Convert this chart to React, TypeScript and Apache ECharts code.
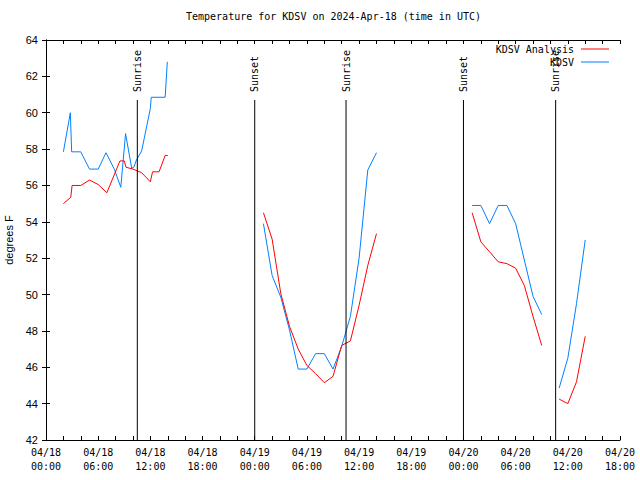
import React, { useEffect, useRef } from "react";
import * as echarts from "echarts";

// Hours since 2024-04-18 00:00 UTC
const titleText = "Temperature for KDSV on 2024-Apr-18 (time in UTC)";
const yAxisName = "degrees F";
const seriesNames = ["KDSV Analysis", "KDSV"];

// KDSV Analysis (red), segments
const analysisHours1 = [2, 2.85, 3, 4, 5, 6, 7, 8.5, 9, 9.2, 10, 11, 12, 12.25, 13, 13.7, 14];
const analysisTemps1 = [55.0, 55.35, 56.0, 56.0, 56.3, 56.05, 55.6, 57.35, 57.35, 57.0, 56.9, 56.7, 56.2, 56.75, 56.75, 57.65, 57.65];
const analysisHours2 = [25, 26, 27, 28, 29, 30, 31, 32, 33, 34, 35, 36, 37, 38];
const analysisTemps2 = [54.5, 53.05, 50.05, 48.25, 47.0, 46.1, 45.65, 45.15, 45.5, 47.2, 47.45, 49.4, 51.6, 53.35];
const analysisHours3 = [49, 50, 51, 52, 53, 54, 55, 56, 57];
const analysisTemps3 = [54.5, 52.9, 52.35, 51.8, 51.7, 51.45, 50.5, 48.8, 47.2];
const analysisHours4 = [59, 60, 61, 62];
const analysisTemps4 = [44.25, 44.0, 45.2, 47.7];

// KDSV observations (blue), segments
const obsHours1 = [2, 2.8, 2.95, 4, 5, 6, 6.9, 7.85, 8.6, 9.15, 9.85, 10.1, 10.4, 11, 12, 12.1, 13.7, 13.95];
const obsTemps1 = [57.85, 60.0, 57.85, 57.85, 56.9, 56.9, 57.8, 56.9, 55.9, 58.85, 56.95, 57.0, 57.4, 57.9, 60.24, 60.85, 60.85, 62.8];
const obsHours2 = [25, 26, 27, 28, 29, 30, 31, 32, 33, 34, 35, 36, 37, 38];
const obsTemps2 = [53.9, 51.05, 49.85, 48.05, 45.9, 45.9, 46.75, 46.75, 45.9, 47.15, 48.8, 52.0, 56.85, 57.8];
const obsHours3 = [49, 50, 51, 52, 53, 54, 55, 56, 57];
const obsTemps3 = [54.9, 54.9, 53.9, 54.9, 54.9, 53.9, 51.9, 49.9, 48.9];
const obsHours4 = [59, 60, 61, 62];
const obsTemps4 = [44.85, 46.5, 49.5, 53.0];

// Sunrise / sunset events
const eventHours = [10.5, 24.0, 34.5, 48.0, 58.6];
const eventNames = ["Sunrise", "Sunset", "Sunrise", "Sunset", "Sunrise"];
const eventLineTopTemp = 60.7;

const xMin = 0;
const xMax = 66;
const xInterval = 6;
const yMin = 42;
const yMax = 64;
const yInterval = 2;

const MONO = "'DejaVu Sans Mono', 'Liberation Mono', monospace";
const SANS = "'Liberation Sans', 'DejaVu Sans', Arial, sans-serif";

function joinSegments(segs: [number[], number[]][]) {
  const out: any[] = [];
  segs.forEach(([h, t], si) => {
    if (si > 0) out.push([(h[0] + out[out.length - 1][0]) / 2, null]);
    h.forEach((v, i) => out.push([v, t[i]]));
  });
  return out;
}

function xLabel(v: number) {
  const day = 18 + Math.floor(v / 24);
  const hr = v % 24;
  return "04/" + String(day).padStart(2, "0") + "\n" + String(hr).padStart(2, "0") + ":00";
}

export default function App() {
  const ref = useRef<HTMLDivElement>(null);
  useEffect(() => {
    if (!ref.current) return;
    const chart = echarts.init(ref.current, undefined, { renderer: "svg" });
    const analysisData = joinSegments([
      [analysisHours1, analysisTemps1],
      [analysisHours2, analysisTemps2],
      [analysisHours3, analysisTemps3],
      [analysisHours4, analysisTemps4],
    ]);
    const obsData = joinSegments([
      [obsHours1, obsTemps1],
      [obsHours2, obsTemps2],
      [obsHours3, obsTemps3],
      [obsHours4, obsTemps4],
    ]);
    const tickCommon = { show: true, inside: true, length: 4, lineStyle: { color: "#000" } };
    const minorCommon = { show: true, splitNumber: 3, length: 4, lineStyle: { color: "#000" } };
    const legendCommon = {
      right: 31,
      align: "right",
      icon: "rect",
      itemWidth: 28,
      itemHeight: 1,
      itemGap: 0,
      padding: 0,
      textStyle: { fontFamily: MONO, fontSize: 10, color: "#000", padding: [0, 2, 0, 0] },
    };
    const option: any = {
      animation: false,
      backgroundColor: "#fff",
      title: {
        text: titleText,
        left: 186,
        top: 11,
        padding: 0,
        textStyle: { fontFamily: MONO, fontSize: 10, fontWeight: "normal", color: "#000" },
      },
      legend: [
        { ...legendCommon, data: [seriesNames[0]], top: 44 },
        { ...legendCommon, data: [seriesNames[1]], top: 57 },
      ],
      grid: { left: 46, right: 20, top: 40, bottom: 40, containLabel: false, outerBoundsMode: "none" },
      xAxis: [
        {
          type: "value",
          position: "bottom",
          min: xMin,
          max: xMax,
          interval: xInterval,
          axisLine: { show: true, lineStyle: { color: "#000", width: 1 } },
          axisTick: tickCommon,
          minorTick: minorCommon,
          splitLine: { show: false },
          axisLabel: {
            formatter: xLabel,
            fontFamily: MONO,
            fontSize: 10,
            color: "#000",
            lineHeight: 14,
            margin: 5,
          },
        },
        {
          type: "value",
          position: "top",
          min: xMin,
          max: xMax,
          interval: xInterval,
          axisLine: { show: true, lineStyle: { color: "#000", width: 1 } },
          axisTick: tickCommon,
          minorTick: minorCommon,
          splitLine: { show: false },
          axisLabel: { show: false },
        },
      ],
      yAxis: [
        {
          type: "value",
          position: "left",
          min: yMin,
          max: yMax,
          interval: yInterval,
          name: yAxisName,
          nameLocation: "middle",
          nameGap: 31,
          nameTextStyle: { fontFamily: SANS, fontSize: 11, color: "#000" },
          axisLine: { show: true, lineStyle: { color: "#000", width: 1 } },
          axisTick: tickCommon,
          splitLine: { show: false },
          axisLabel: { fontFamily: SANS, fontSize: 11, color: "#000", margin: 8 },
        },
        {
          type: "value",
          position: "right",
          min: yMin,
          max: yMax,
          interval: yInterval,
          axisLine: { show: true, lineStyle: { color: "#000", width: 1 } },
          axisTick: tickCommon,
          splitLine: { show: false },
          axisLabel: { show: false },
        },
      ],
      series: [
        {
          name: seriesNames[0],
          type: "line",
          data: analysisData,
          symbol: "none",
          connectNulls: false,
          lineStyle: { color: "#ff0000", width: 1 },
          itemStyle: { color: "#ff0000" },
          z: 3,
        },
        {
          name: seriesNames[1],
          type: "line",
          data: obsData,
          symbol: "none",
          connectNulls: false,
          lineStyle: { color: "#0080ff", width: 1 },
          itemStyle: { color: "#0080ff" },
          z: 2,
        },
        {
          name: "events",
          type: "custom",
          data: eventHours.map((h) => [h, yMin]),
          encode: { x: 0, y: 1 },
          z: 4,
          silent: true,
          renderItem: (params: any, api: any) => {
            const t = api.value(0);
            const top = api.coord([t, eventLineTopTemp]);
            const bottom = api.coord([t, yMin]);
            return {
              type: "group",
              children: [
                {
                  type: "line",
                  shape: { x1: top[0], y1: top[1], x2: bottom[0], y2: bottom[1] },
                  style: { stroke: "#000", lineWidth: 1 },
                },
                {
                  type: "text",
                  x: top[0],
                  y: top[1] - 8,
                  rotation: Math.PI / 2,
                  style: {
                    text: eventNames[params.dataIndex],
                    fontFamily: MONO,
                    fontSize: 10,
                    fill: "#000",
                    align: "left",
                    verticalAlign: "middle",
                  },
                },
              ],
            };
          },
        },
      ],
    };
    chart.setOption(option);
    return () => chart.dispose();
  }, []);
  return (
    <div
      ref={ref}
      style={{ position: "fixed", left: 0, top: 0, width: 640, height: 480, background: "#fff" }}
    />
  );
}
